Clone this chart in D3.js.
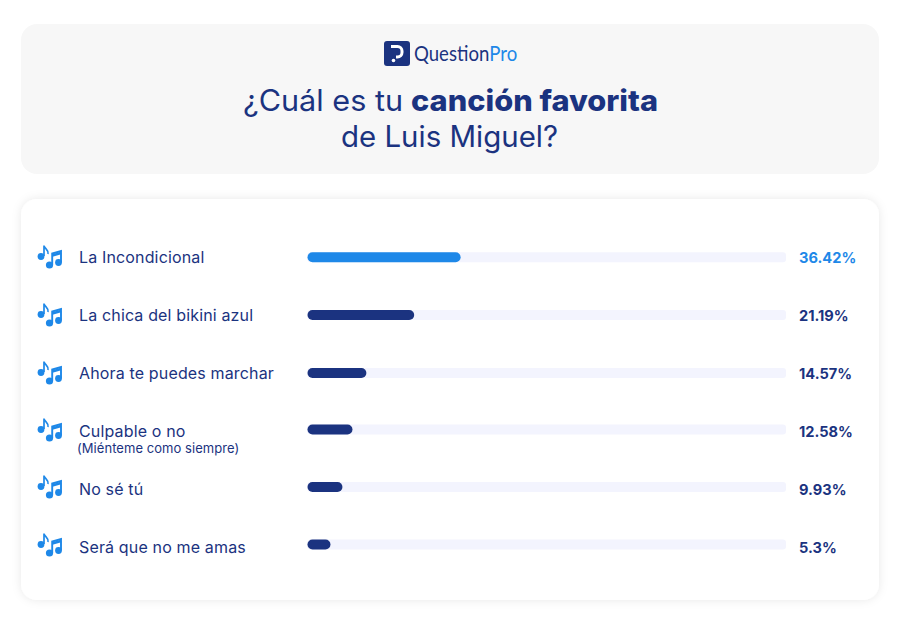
<!DOCTYPE html>
<html><head><meta charset="utf-8">
<script src="https://cdn.jsdelivr.net/npm/d3@7/dist/d3.min.js"></script>
<style>html,body{margin:0;padding:0;background:#fff}svg{display:block}text{font-family:Inter,"Noto Sans",sans-serif}</style>
</head><body><div id="c"></div>
<script>
const categories = ["La Incondicional","La chica del bikini azul","Ahora te puedes marchar","Culpable o no","No sé tú","Será que no me amas"];
const sublabels = ["","","","(Miénteme como siempre)","",""];
const valueLabels = ["36.42%","21.19%","14.57%","12.58%","9.93%","5.3%"];
// bar fill as drawn in the picture, percent of the track
const barFill = [32,22.3,12.3,9.4,7.3,4.8];
const navy="#1b3380", blue="#1e88e8", track="#f3f4fe";
const W=900,H=619;
const svg=d3.select("#c").append("svg").attr("width",W).attr("height",H);
const defs=svg.append("defs");
const f=defs.append("filter").attr("id","sh").attr("x","-5%").attr("y","-5%").attr("width","110%").attr("height","110%");
f.append("feDropShadow").attr("dx",0).attr("dy",0).attr("stdDeviation",5).attr("flood-color","#000").attr("flood-opacity",0.09);
svg.append("rect").attr("x",21).attr("y",24).attr("width",858).attr("height",150).attr("rx",16).attr("fill","#f7f7f7");
svg.append("rect").attr("x",21).attr("y",199).attr("width",858).attr("height",401).attr("rx",16).attr("fill","#fff").attr("filter","url(#sh)");
// logo
const logo=svg.append("g");
logo.append("rect").attr("x",384).attr("y",41).attr("width",26).attr("height",25).attr("rx",3).attr("fill",navy);
logo.append("path").attr("d","M391 46.5h6.5a4.5 4.5 0 0 1 4.5 4.5v1.5a4.5 4.5 0 0 1-4.5 4.5H396").attr("fill","none").attr("stroke","#fff").attr("stroke-width",3);
logo.append("circle").attr("cx",393.5).attr("cy",60.5).attr("r",1.8).attr("fill","#fff");
const lt=svg.append("text").attr("transform","translate(414,61) scale(0.845,1)").attr("font-size",22).style("font-family","Lato");
lt.append("tspan").attr("fill",navy).text("Question");
lt.append("tspan").attr("fill",blue).text("Pro");
// title
const titleText=(s,x0,y,len,w)=>svg.append("text").attr("x",x0).attr("y",y).attr("font-size",29.5).attr("font-weight",w).attr("textLength",len).attr("lengthAdjust","spacingAndGlyphs").attr("fill",navy).text(s);
titleText("¿Cuál es tu",243,111,160,400);
titleText("canción favorita",411,111,247,800);
titleText("de Luis Miguel?",341,147,217,400);
// rows
const barY=[257.3,315,373,429.5,487,544.5];
const labelY=[257,315,373,431,489,547];
const iconY=[257,315,373,430,487,545];
const x=d3.scaleLinear().domain([0,100]).range([307.5,786]);
const bh=10;
const rows=svg.selectAll("g.r").data(categories).join("g").attr("class","r");
rows.append("rect").attr("x",x(0)).attr("y",(d,i)=>barY[i]-bh/2).attr("width",x(100)-x(0)).attr("height",bh).attr("rx",3).attr("fill",track);
rows.append("rect").attr("x",x(0)).attr("y",(d,i)=>barY[i]-bh/2).attr("width",(d,i)=>x(barFill[i])-x(0)).attr("height",bh).attr("rx",5).attr("fill",(d,i)=>i==0?blue:navy);
rows.append("text").attr("x",79).attr("y",(d,i)=>labelY[i]+5.5).attr("font-size",16).attr("letter-spacing",0.15).attr("fill",navy).text(d=>d);
rows.filter((d,i)=>sublabels[i]).append("text").attr("x",77).attr("y",453).attr("font-size",13).attr("letter-spacing",0.05).attr("fill",navy).text(d=>sublabels[categories.indexOf(d)]);
rows.append("text").attr("x",799).attr("y",(d,i)=>labelY[i]+5.5).attr("font-size",14.6).attr("font-weight",700).attr("fill",(d,i)=>i==0?blue:navy).text((d,i)=>valueLabels[i]);
// note icons
const ic=rows.append("g").attr("transform",(d,i)=>`translate(37,${iconY[i]-13})`).attr("fill",blue).attr("stroke",blue);
ic.append("circle").attr("cx",4).attr("cy",12.5).attr("r",3.4).attr("stroke","none");
ic.append("path").attr("d","M7 12V1.5C7.5 5 12 5.5 11 10").attr("fill","none").attr("stroke-width",1.7);
ic.append("circle").attr("cx",12.5).attr("cy",21).attr("r",3.6).attr("stroke","none");
ic.append("circle").attr("cx",21.5).attr("cy",18.5).attr("r",3.4).attr("stroke","none");
ic.append("path").attr("d","M15.2 21V9.5L24 7V18.5").attr("fill","none").attr("stroke-width",1.9);
ic.append("path").attr("d","M15.2 11.5L24 9").attr("fill","none").attr("stroke-width",2.5);
</script></body></html>
